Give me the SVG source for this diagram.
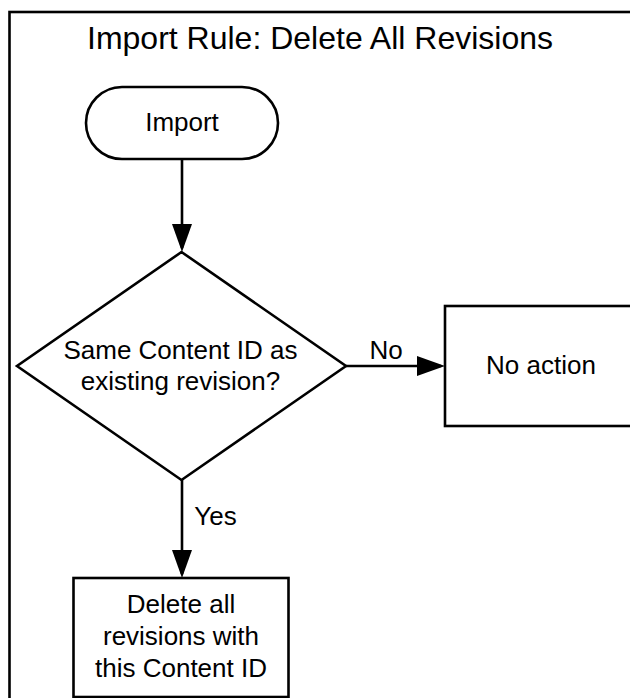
<svg xmlns="http://www.w3.org/2000/svg" width="630" height="698" viewBox="0 0 630 698">
<style>
.shape{fill:#fff;stroke:#000;stroke-width:2.6}
.lbl{font-family:"Liberation Sans",Arial,sans-serif;font-size:26px;fill:#000;text-anchor:middle}
.conn{stroke:#000;stroke-width:2.6;fill:none;marker-end:url(#arr)}
</style>
<defs>
<marker id="arr" markerUnits="userSpaceOnUse" markerWidth="28" markerHeight="20" refX="24" refY="10" orient="auto">
<path d="M0,0 L28,10 L0,20 z" fill="#000"/>
</marker>
</defs>
<rect width="630" height="698" fill="#fff"/>
<g id="frame">
<rect x="9.5" y="12" width="640" height="700" fill="none" stroke="#000" stroke-width="2.6"/>
<text x="320" y="49" style="font-family:'Liberation Sans',Arial,sans-serif;font-size:32px;text-anchor:middle">Import Rule: Delete All Revisions</text>
</g>
<g id="connectors">
<line class="conn" x1="182" y1="159" x2="182" y2="248"/>
<line class="conn" x1="346" y1="366" x2="441" y2="366"/>
<line class="conn" x1="182" y1="480" x2="182" y2="574"/>
<text class="lbl" x="386" y="359">No</text>
<text class="lbl" x="215.5" y="525">Yes</text>
</g>
<g id="import">
<rect class="shape" x="86" y="87" width="192" height="72" rx="36" ry="36"/>
<text class="lbl" x="182" y="131">Import</text>
</g>
<g id="decision">
<polygon class="shape" points="181.5,252 346,366 181.5,480 17,366"/>
<text class="lbl" x="180.5" y="359">Same Content ID as</text>
<text class="lbl" x="180.5" y="390">existing revision?</text>
</g>
<g id="noaction">
<rect class="shape" x="445" y="306" width="192" height="120"/>
<text class="lbl" x="541" y="374">No action</text>
</g>
<g id="delete">
<rect class="shape" x="73.5" y="578" width="215" height="119"/>
<text class="lbl" x="181" y="613">Delete all</text>
<text class="lbl" x="181" y="645">revisions with</text>
<text class="lbl" x="181" y="677">this Content ID</text>
</g>
</svg>
